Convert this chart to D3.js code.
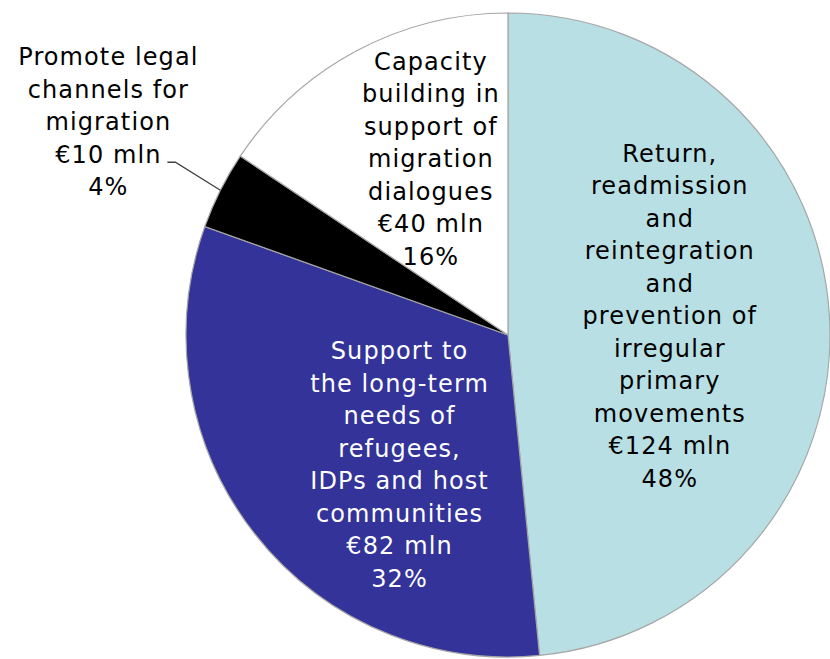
<!DOCTYPE html>
<html>
<head>
<meta charset="utf-8">
<script src="https://cdn.jsdelivr.net/npm/d3@7"></script>
<style>
  body { margin: 0; background: #fff; }
  svg text { font-family: Verdana, "DejaVu Sans", sans-serif; }
</style>
</head>
<body>
<div id="chart"></div>
<script>
"use strict";
// slice data, in clockwise order from 12 o'clock
const categories = [
    "Return, readmission and reintegration and prevention of irregular primary movements",
    "Support to the long-term needs of refugees, IDPs and host communities",
    "Promote legal channels for migration",
    "Capacity building in support of migration dialogues"
];
const amounts = [124, 82, 10, 40]; // € mln
const percents = [48, 32, 4, 16]; // %
const labelLines = [
    ["Return,", "readmission", "and", "reintegration", "and", "prevention of", "irregular", "primary", "movements"],
    ["Support to", "the long-term", "needs of", "refugees,", "IDPs and host", "communities"],
    ["Promote legal", "channels for", "migration"],
    ["Capacity", "building in", "support of", "migration", "dialogues"]
];
const colors = ["#b8dfe3", "#333399", "#000000", "#ffffff"];
const textColors = ["#000", "#fff", "#000", "#000"];

const width = 830, height = 659;
const cx = 508, cy = 335, radius = 322; // px
const lineHeight = 32.5; // px

// label placement: distance from centre and nudges (px)
const labelRadius = [162, 168, 0, 170];
const labelNudge = [[0, -11], [24, 26], [0, 0], [3, -26]];

const svg = d3.select("#chart")
    .append("svg")
    .attr("width", width)
    .attr("height", height);

const g = svg.append("g").attr("transform", `translate(${cx},${cy})`);

const pie = d3.pie().sort(null).value((d) => d);
const arcs = pie(amounts);
const arc = d3.arc().innerRadius(0).outerRadius(radius);

g.selectAll("path.slice")
    .data(arcs)
    .join("path")
    .attr("class", "slice")
    .attr("d", arc)
    .attr("fill", (d, i) => colors[i])
    .attr("stroke", "#a6a6a6")
    .attr("stroke-width", 1.2);

function linesFor(i) {
    return labelLines[i].concat([`€${amounts[i]} mln`, `${percents[i]}%`]);
}

// inside labels
arcs.forEach((a, i) => {
    if (labelRadius[i] === 0) return;
    const c = d3.arc().innerRadius(labelRadius[i]).outerRadius(labelRadius[i]).centroid(a);
    const lines = linesFor(i);
    const x = c[0] + labelNudge[i][0];
    const y0 = c[1] + labelNudge[i][1] - (lines.length - 1) * lineHeight / 2;
    g.append("text")
        .attr("text-anchor", "middle")
        .attr("font-size", 24)
        .attr("letter-spacing", 1.1)
        .attr("fill", textColors[i])
        .selectAll("tspan")
        .data(lines)
        .join("tspan")
        .attr("x", x)
        .attr("y", (d, k) => y0 + k * lineHeight)
        .attr("dy", "0.35em")
        .text((d) => d);
});

// outside label with leader line for the small slice
const small = arcs[2];
const mid = (small.startAngle + small.endAngle) / 2;
const edge = [Math.sin(mid) * radius, -Math.cos(mid) * radius];
const elbow = [edge[0] - 45, edge[1] - 28];
const tail = [elbow[0] - 8, elbow[1]];
g.append("polyline")
    .attr("points", [edge, elbow, tail].map((p) => p.join(",")).join(" "))
    .attr("fill", "none")
    .attr("stroke", "#404040")
    .attr("stroke-width", 1.3);

const outLines = linesFor(2);
const ox = tail[0] - 59;
const oy0 = tail[1] - 3 * lineHeight - 8;
g.append("text")
    .attr("text-anchor", "middle")
    .attr("font-size", 24)
    .attr("letter-spacing", 1.1)
    .attr("fill", "#000")
    .selectAll("tspan")
    .data(outLines)
    .join("tspan")
    .attr("x", ox)
    .attr("y", (d, k) => oy0 + k * lineHeight)
    .attr("dy", "0.35em")
    .text((d) => d);
</script>
</body>
</html>
